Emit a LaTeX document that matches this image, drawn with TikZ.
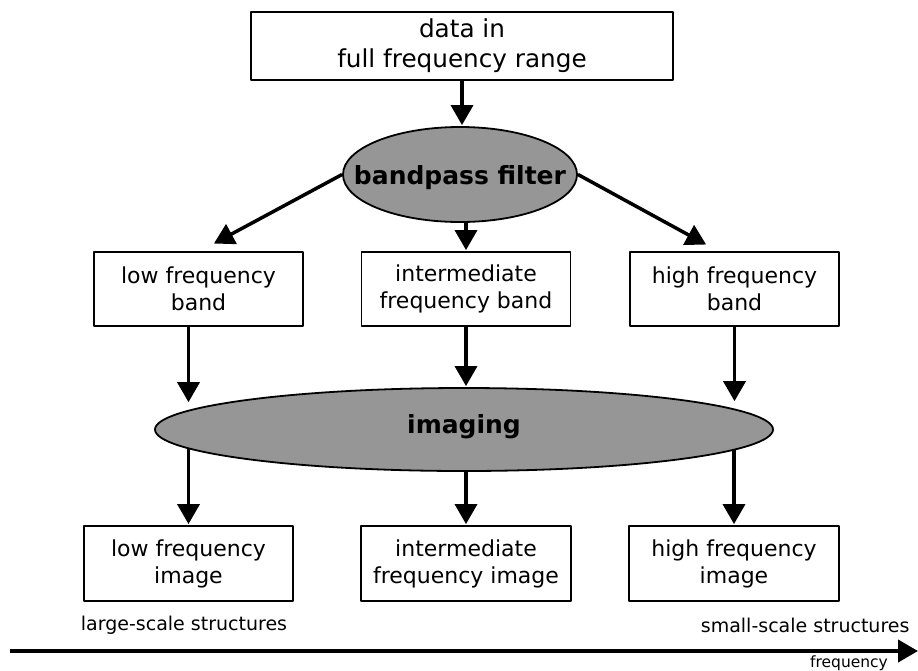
\documentclass[tikz,border=0pt]{standalone}
\usepackage{fontspec}
\setmainfont{DejaVu Sans}
\usetikzlibrary{arrows.meta,shapes.geometric}
\definecolor{blobgray}{RGB}{150,150,150}
\begin{document}
\begin{tikzpicture}[x=1pt, y=-1pt, line join=round,
	box/.style={draw, line width=1.8pt, align=center, inner sep=0pt,
		minimum width=209pt, minimum height=75pt, font=\fontsize{22}{27}\selectfont},
	blob/.style={draw, ellipse, fill=blobgray, line width=1.8pt, inner sep=0pt},
	boldtxt/.style={font=\fontsize{25}{30}\selectfont\bfseries},
	arr/.style={line width=3.5pt, -{Triangle[length=20pt,width=22pt]}, shorten >=1pt},
	smalltxt/.style={font=\fontsize{19}{23}\selectfont}]
	\useasboundingbox (0,0) rectangle (918,670);
	% top
	\node[box, minimum width=422pt, minimum height=68pt,
		font=\fontsize{24.7}{30}\selectfont] (data) at (462,46) {data in\\full frequency range};
	\node[blob, minimum width=234pt, minimum height=95pt,
		label={[boldtxt, yshift=-3pt]center:bandpass filter}] (filter) at (460,174.5) {};
	% bands
	\node[box, minimum height=74pt] (lowband) at (198.5,289) {low frequency\\band};
	\node[box, minimum height=74pt] (midband) at (466,289) {intermediate\\frequency band};
	\node[box, minimum height=74pt] (highband) at (734.5,289) {high frequency\\band};
	\coordinate (lowtip) at (213,244);
	\coordinate (hightip) at (707,245);
	% imaging
	\node[blob, minimum width=618pt, minimum height=83pt,
		label={[boldtxt, yshift=3pt]center:imaging}] (imaging) at (464,429.5) {};
	% images
	\node[box] (lowimg) at (188.5,563.5) {low frequency\\image};
	\node[box, minimum width=210pt] (midimg) at (466,563.5) {intermediate\\frequency image};
	\node[box, minimum width=210pt] (highimg) at (734,563.5) {high frequency\\image};
	% arrows
	\draw[arr] (data.south) -- (data.south |- filter.north);
	\draw[arr] (filter.west) -- (lowtip);
	\draw[arr] (filter.east) -- (hightip);
	\draw[arr] (filter.south -| midband.north) -- (midband.north);
	\draw[arr, shorten >=8pt] (lowimg.north |- lowband.south) -- (lowimg.north |- imaging.176);
	\draw[arr] (midband.south) -- (midband.south |- imaging.north);
	\draw[arr, shorten >=9pt] (highband.south) -- (highband.south |- imaging.4);
	\draw[arr] (lowimg.north |- imaging.184) -- (lowimg.north);
	\draw[arr] (imaging.south -| midimg.north) -- (midimg.north);
	\draw[arr] (highimg.north |- imaging.356) -- (highimg.north);
	% frequency axis
	\node[smalltxt] (largesc) at (184,625) {large-scale structures};
	\node[smalltxt, anchor=east] (smallsc) at (913,625) {small-scale structures};
	\coordinate (axstart) at (10,651);
	\coordinate (axend) at (918,651);
	\draw[line width=4pt, -{Triangle[length=20pt,width=22pt]}] (axstart) -- (axend);
	\node[font=\fontsize{15.5}{18}\selectfont] (freq) at (849,663) {frequency};
\end{tikzpicture}
\end{document}
